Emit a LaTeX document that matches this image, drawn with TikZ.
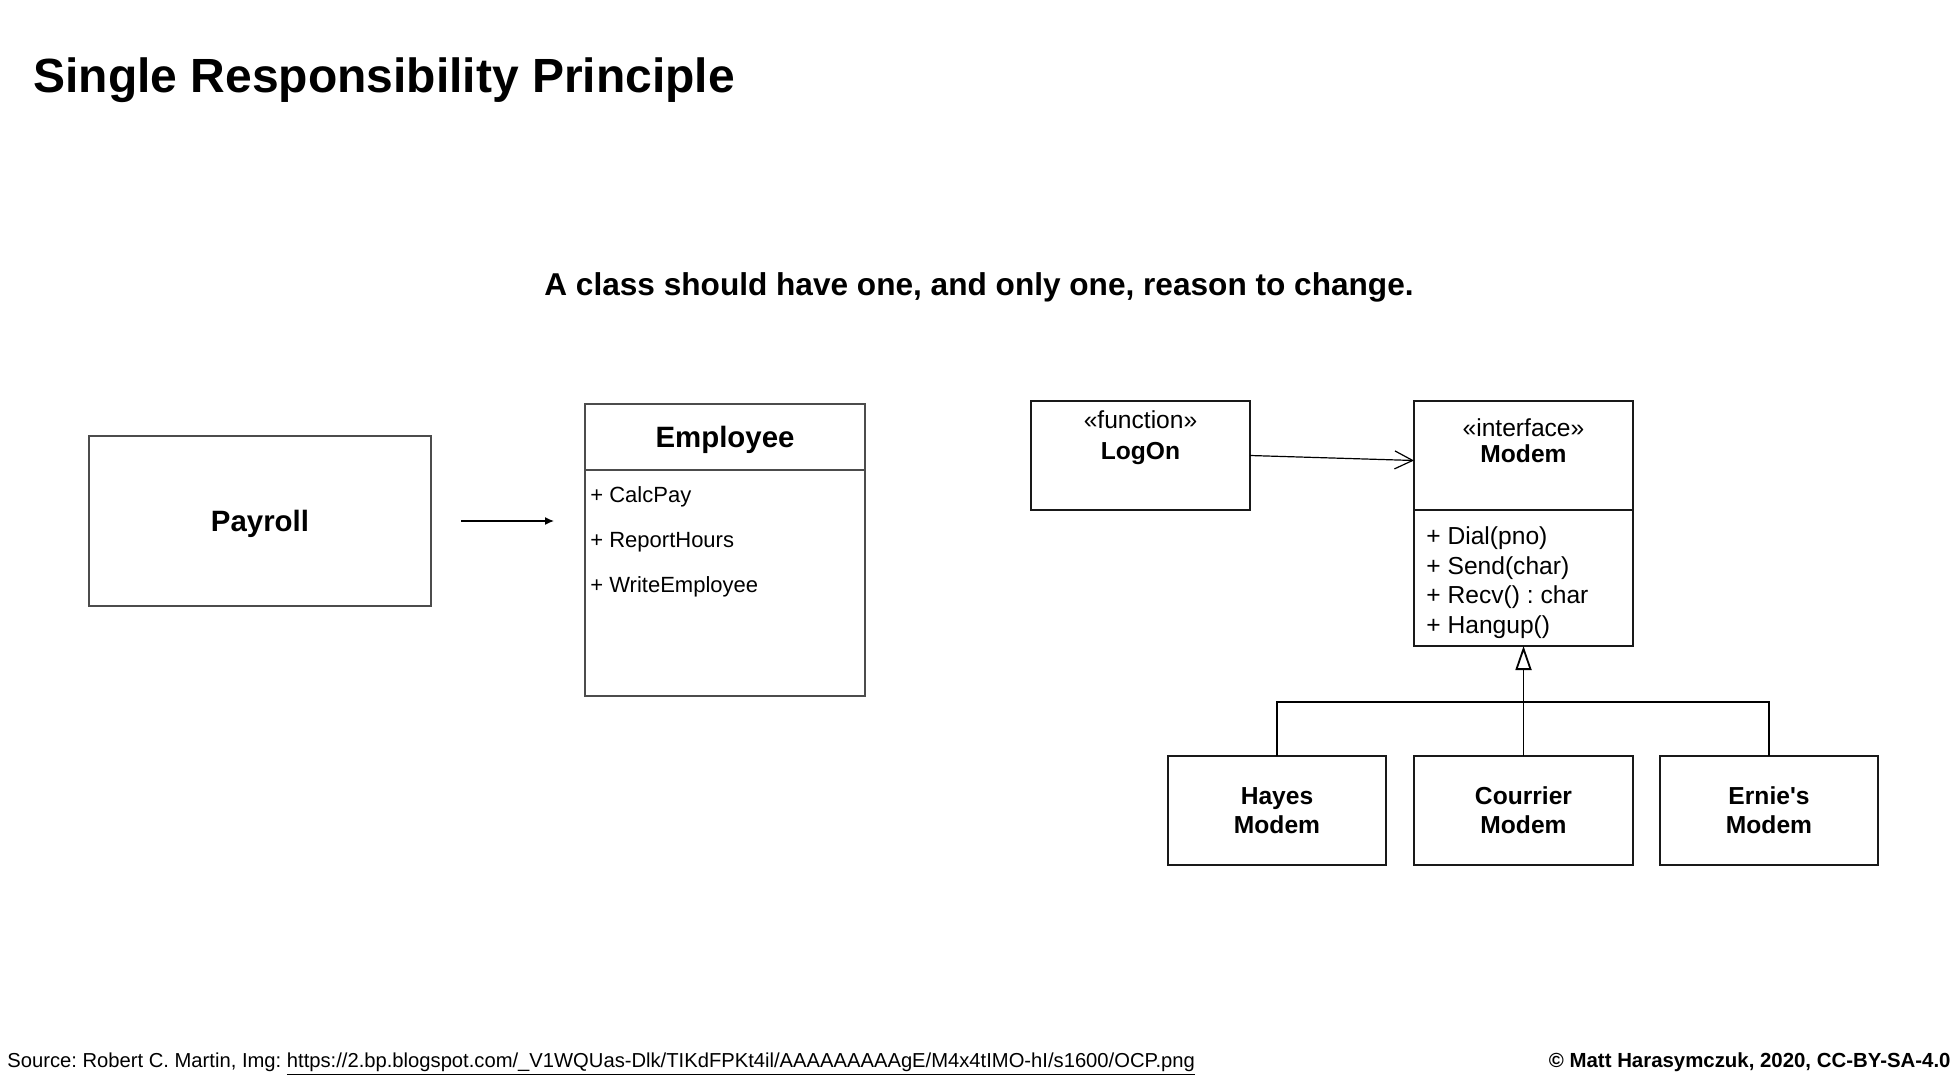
\documentclass[tikz,border=0pt]{standalone}
\usepackage{fontspec}
\setmainfont{Liberation Sans}
\usetikzlibrary{arrows.meta}
\frenchspacing

\begin{document}
\begin{tikzpicture}[x=0.5pt,y=0.5pt,yscale=-1,xscale=1,
  slidebox/.style={draw=black!70, line width=0.7pt, inner sep=0pt, outer sep=0pt, text depth=0pt},
  umlbox/.style={draw=black!90, line width=0.9pt, inner sep=0pt, outer sep=0pt, font=\fontsize{12.3}{14.5}\selectfont\bfseries, align=center},
  itemtext/.style={anchor=west, inner sep=0pt},
  umltext/.style={inner sep=0pt, font=\fontsize{12.3}{14.5}\selectfont},
  umlname/.style={inner sep=0pt, font=\fontsize{12.3}{14.5}\selectfont\bfseries}]
        \useasboundingbox (0,0) rectangle (1960,1080);

        % Title
        \node (title) at (33,93) [anchor=base west][inner sep=0pt][font=\fontsize{24}{28}\selectfont\bfseries] {Single Responsibility Principle};
        % Subtitle
        \node (motto) at (979,296) [anchor=base][inner sep=0pt][font=\fontsize{15.8}{19}\selectfont\bfseries] {A class should have one, and only one, reason to change.};

        %Shape: Payroll box
        \node (payroll) at (260,521) [slidebox, minimum width=171pt, minimum height=85pt][font=\fontsize{14.7}{17}\selectfont\bfseries] {Payroll};
        %Shape: Employee class
        \node (emphead) at (725,437) [slidebox, minimum width=140pt, minimum height=33pt][font=\fontsize{14.7}{17}\selectfont\bfseries] {Employee};
        \node (empbody) at (725,583) [slidebox, minimum width=140pt, minimum height=113pt] {};
        % Text Node
        \node (calcpay) at (590,497) [itemtext][font=\fontsize{11}{13}\selectfont] {+ CalcPay};
        % Text Node
        \node (report) at (590,542) [itemtext][font=\fontsize{11}{13}\selectfont] {+ ReportHours};
        % Text Node
        \node (writeemp) at (590,587) [itemtext][font=\fontsize{11}{13}\selectfont] {+ WriteEmployee};
        %Straight Lines: Payroll uses Employee
        \draw [-{Latex[length=4.5pt,width=4pt]}, line width=0.7pt, shorten <=15pt, shorten >=15.5pt] (payroll.east) -- (payroll.east -| emphead.west);

        %Shape: LogOn function
        \node (logon) at (1140.5,455.5) [umlbox, minimum width=109.5pt, minimum height=54.5pt] {};
        \node (logonst) at (1140.5,420) [umltext] {«function»};
        \node (logonname) at (1140.5,454) [umlname] {LogOn};
        %Shape: Modem interface
        \node (modemhead) at (1523.5,455.5) [umlbox, minimum width=109.5pt, minimum height=54.5pt] {};
        \node (modembody) at (1523.5,578) [umlbox, minimum width=109.5pt, minimum height=68pt] {};
        \node (modemst) at (1523.5,428) [umltext] {«interface»};
        \node (modemname) at (1523.5,454) [umlname] {Modem};
        % Text Node
        \node (dial) at (1426,538) [umltext, anchor=west] {+ Dial(pno)};
        % Text Node
        \node (send) at (1426,568) [umltext, anchor=west] {+ Send(char)};
        % Text Node
        \node (recv) at (1426,597) [umltext, anchor=west] {+ Recv() : char};
        % Text Node
        \node (hangup) at (1426,627) [umltext, anchor=west] {+ Hangup()};
        %Straight Lines: LogOn uses Modem
        \draw [-{Straight Barb[length=9pt,width=9pt]}, line width=0.6pt] (logon.east) -- ([yshift=2.5pt]modemhead.west);

        %Shape: Modem implementations
        \node (hayes) at (1277,810.5) [umlbox, minimum width=109pt, minimum height=54.5pt] {Hayes\\Modem};
        \node (courrier) at (1523.5,810.5) [umlbox, minimum width=109.5pt, minimum height=54.5pt] {Courrier\\Modem};
        \node (ernie) at (1769,810.5) [umlbox, minimum width=109pt, minimum height=54.5pt] {Ernie\textquotesingle s\\Modem};
        \coordinate (bus) at (1523.5,702);
        %Straight Lines: inheritance
        \draw [line width=0.9pt] (hayes.north) |- (bus) -| (ernie.north);
        \draw [-{Triangle[open, length=12pt, width=8pt, fill=white]}, line width=0.9pt] (courrier.north) -- (modembody.south);

        % Footer
        \node (source) at (7,1067) [anchor=base west][inner sep=0pt][font=\fontsize{10.1}{12}\selectfont] {Source: Robert C. Martin, Img: \underline{https://2.bp.blogspot.com/\_V1WQUas-Dlk/TIKdFPKt4il/AAAAAAAAAgE/M4x4tIMO-hI/s1600/OCP.png}};
        \node (credit) at (1951,1067) [anchor=base east][inner sep=0pt][font=\fontsize{10.2}{12}\selectfont\bfseries] {© Matt Harasymczuk, 2020, CC-BY-SA-4.0};

        \end{tikzpicture}
\end{document}
